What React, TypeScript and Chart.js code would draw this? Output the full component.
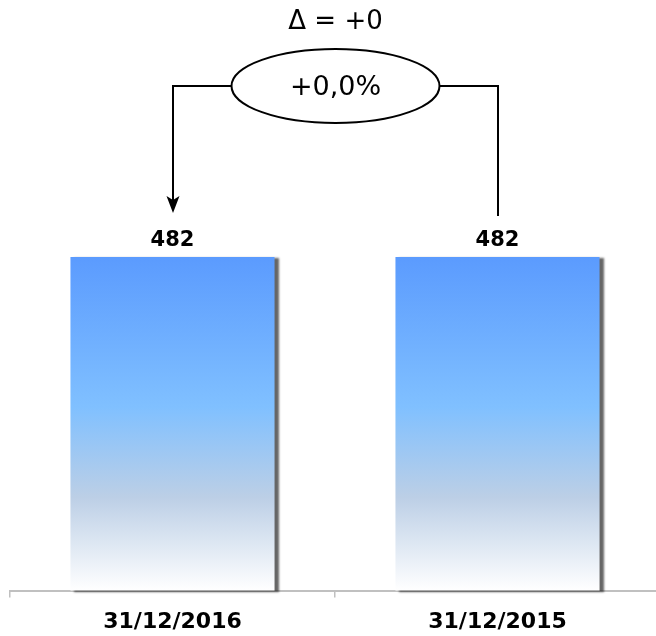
import React, { useEffect, useRef } from "react";
import { Chart, registerables } from "chart.js";

Chart.register(...registerables);

const categories: string[] = ["31/12/2016", "31/12/2015"];
const values: number[] = [482, 482];

const FONT = "'DejaVu Sans', Verdana, sans-serif";

function fmtSigned(n: number, digits: number): string {
  const s = Math.abs(n).toFixed(digits).replace(".", ",");
  return (n < 0 ? "-" : "+") + s;
}

const shadowPlugin = {
  id: "barShadow",
  beforeDatasetsDraw(chart: any) {
    const ctx = chart.ctx;
    ctx.save();
    ctx.shadowColor = "rgba(0,0,0,0.6)";
    ctx.shadowBlur = 2;
    ctx.shadowOffsetX = 4;
    ctx.shadowOffsetY = 1;
  },
  afterDatasetsDraw(chart: any) {
    chart.ctx.restore();
  },
};

const overlayPlugin = {
  id: "overlay",
  afterDraw(chart: any) {
    const ctx = chart.ctx;
    const meta = chart.getDatasetMeta(0);
    const xs = chart.scales.x;
    ctx.save();
    ctx.fillStyle = "#000";
    ctx.font = `bold 21px ${FONT}`;
    ctx.textAlign = "center";
    ctx.textBaseline = "middle";
    meta.data.forEach((bar: any, i: number) => {
      ctx.fillText(String(values[i]), bar.x, bar.y - 16);
    });

    const xL = Math.round(xs.getPixelForValue(0));
    const xR = Math.round(xs.getPixelForValue(1));
    const cx = (xL + xR) / 2;
    const cy = 86;
    const rx = 104;
    const ry = 37;
    const delta = values[0] - values[1];
    const pct = values[1] !== 0 ? (delta / values[1]) * 100 : 0;

    ctx.strokeStyle = "#000";
    ctx.lineWidth = 2;
    ctx.beginPath();
    ctx.ellipse(cx, cy, rx, ry, 0, 0, Math.PI * 2);
    ctx.stroke();
    ctx.beginPath();
    ctx.moveTo(cx - rx, cy);
    ctx.lineTo(xL, cy);
    ctx.lineTo(xL, 203);
    ctx.stroke();
    ctx.fillStyle = "#000";
    ctx.beginPath();
    ctx.moveTo(xL, 213);
    ctx.lineTo(xL - 6.5, 196);
    ctx.lineTo(xL, 200);
    ctx.lineTo(xL + 6.5, 196);
    ctx.closePath();
    ctx.fill();
    ctx.beginPath();
    ctx.moveTo(cx + rx, cy);
    ctx.lineTo(xR, cy);
    ctx.lineTo(xR, 216);
    ctx.stroke();

    ctx.font = `27px ${FONT}`;
    ctx.fillText(fmtSigned(pct, 1) + "%", cx, cy + 2);
    ctx.font = `26px ${FONT}`;
    ctx.fillText("\u0394 = " + fmtSigned(delta, 0), cx, 22);
    ctx.restore();
  },
};

export default function App() {
  const ref = useRef<HTMLCanvasElement | null>(null);
  useEffect(() => {
    if (!ref.current) return;
    const chart = new Chart(ref.current, {
      type: "bar",
      data: {
        labels: categories,
        datasets: [
          {
            data: values,
            clip: false as any,
            backgroundColor: (c: any) => {
              const area = c.chart.chartArea;
              if (!area) return "#5b9bff";
              const g = c.chart.ctx.createLinearGradient(0, area.top, 0, area.bottom);
              g.addColorStop(0, "#5b9bfe");
              g.addColorStop(0.45, "#80c0ff");
              g.addColorStop(0.72, "#bccfe6");
              g.addColorStop(1, "#ffffff");
              return g;
            },
            borderWidth: 0,
            barPercentage: 0.628,
            categoryPercentage: 1,
          },
        ],
      },
      options: {
        animation: false,
        responsive: true,
        maintainAspectRatio: false,
        layout: { padding: { top: 257, left: 10, right: 0, bottom: -10 } },
        plugins: { legend: { display: false }, tooltip: { enabled: false } },
        scales: {
          x: {
            grid: {
              offset: true,
              drawOnChartArea: false,
              tickLength: 7,
              color: "#c0c0c0",
              lineWidth: 1.5,
            },
            border: { color: "#c0c0c0", width: 2 },
            ticks: {
              color: "#000",
              padding: 11,
              font: { family: FONT, size: 22, weight: "bold" },
            },
          },
          y: {
            display: false,
            min: 0,
            max: Math.max(...values),
          },
        },
      },
      plugins: [shadowPlugin, overlayPlugin],
    });
    return () => chart.destroy();
  }, []);
  return (
    <div style={{ position: "fixed", left: 0, top: 0, width: 656, height: 636, overflow: "hidden", background: "#fff" }}>
      <div style={{ position: "relative", width: 660, height: 636 }}>
        <canvas ref={ref} />
      </div>
    </div>
  );
}
